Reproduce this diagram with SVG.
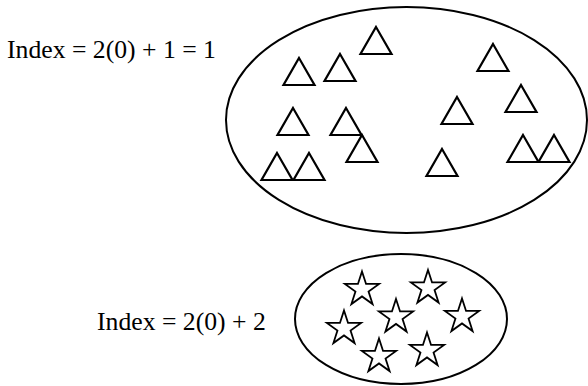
<svg xmlns="http://www.w3.org/2000/svg" xmlns:xlink="http://www.w3.org/1999/xlink" width="588" height="386" viewBox="0 0 588 386">
<style>
.set{fill:none;stroke:#000;stroke-width:2}
.tri{fill:none;stroke:#000;stroke-width:2.2;stroke-linejoin:miter}
.star{fill:none;stroke:#000;stroke-width:1.8;stroke-linejoin:miter}
.lbl{font-family:"Liberation Serif","Times New Roman",serif;font-size:25.7px;fill:#000}
</style>
<defs>
<path id="t" class="tri" d="M0 0 L15.5 27 L-15.5 27 Z"/>
<path id="s" class="star" d="M0 -18 L4.05 -5.57 L17.12 -5.56 L6.55 2.13 L10.58 14.56 L0 6.9 L-10.58 14.56 L-6.55 2.13 L-17.12 -5.56 L-4.05 -5.57 Z"/>
</defs>
<rect width="588" height="386" fill="#fff"/>
<g id="label1"><text class="lbl" x="7" y="58">Index = 2(0) + 1 = 1</text></g>
<g id="set1">
<ellipse class="set" cx="406.5" cy="120" rx="180.5" ry="113"/>
<use xlink:href="#t" x="376" y="27"/>
<use xlink:href="#t" x="299" y="58"/>
<use xlink:href="#t" x="340" y="54"/>
<use xlink:href="#t" x="493" y="44"/>
<use xlink:href="#t" x="293" y="108"/>
<use xlink:href="#t" x="346" y="108"/>
<use xlink:href="#t" x="362" y="135"/>
<use xlink:href="#t" x="457" y="97"/>
<use xlink:href="#t" x="521" y="85"/>
<use xlink:href="#t" x="277" y="153"/>
<use xlink:href="#t" x="309" y="153"/>
<use xlink:href="#t" x="442" y="149"/>
<use xlink:href="#t" x="523" y="135"/>
<use xlink:href="#t" x="554" y="135"/>
</g>
<g id="label2"><text class="lbl" x="97" y="330">Index = 2(0) + 2</text></g>
<g id="set2">
<ellipse class="set" cx="401" cy="319" rx="106" ry="65"/>
<use xlink:href="#s" x="362" y="289.5"/>
<use xlink:href="#s" x="428" y="288"/>
<use xlink:href="#s" x="396" y="317"/>
<use xlink:href="#s" x="462" y="316.5"/>
<use xlink:href="#s" x="344" y="328.5"/>
<use xlink:href="#s" x="379" y="356.5"/>
<use xlink:href="#s" x="427" y="350.5"/>
</g>
</svg>
